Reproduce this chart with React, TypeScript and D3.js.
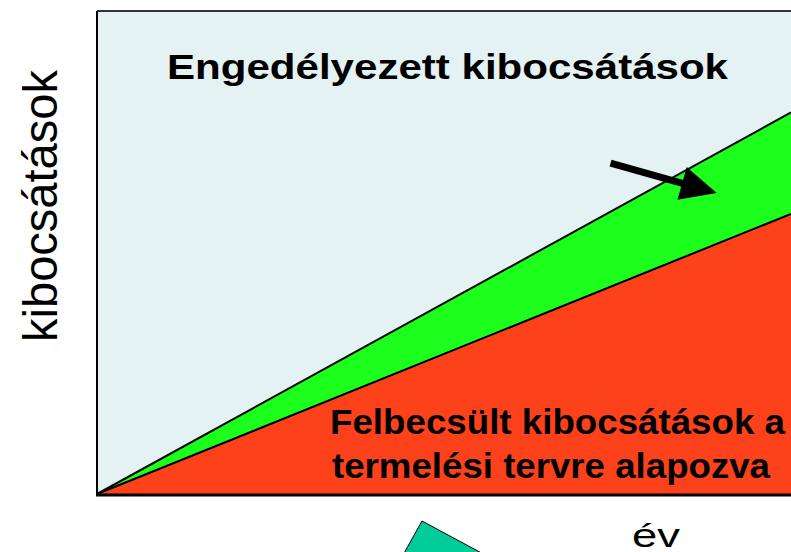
import * as d3 from 'd3';

// conceptual chart: emissions over the years
const years = [0, 10];
const permitted = [0, 79];
const estimated = [0, 58];
const arrowFrom = [7.4, 68.5];
const arrowTo = [8.93, 62.3];

const W = 791;
const H = 552;

export default function App() {
  const x = d3.scaleLinear().domain([0, 10]).range([97, 791]);
  const y = d3.scaleLinear().domain([0, 100]).range([494, 11]);

  const upper = years.map((t, i) => [x(t), y(permitted[i])] as [number, number]);
  const lower = years.map((t, i) => [x(t), y(estimated[i])] as [number, number]);

  const areaGreen = d3
    .area<number>()
    .x((_, i) => x(years[i]))
    .y0((_, i) => y(estimated[i]))
    .y1((_, i) => y(permitted[i]));
  const areaRed = d3
    .area<number>()
    .x((_, i) => x(years[i]))
    .y0(() => y(0))
    .y1((_, i) => y(estimated[i]));
  const line = d3.line();

  // arrow geometry
  const ax0 = x(arrowFrom[0]);
  const ay0 = y(arrowFrom[1]);
  const ax1 = x(arrowTo[0]);
  const ay1 = y(arrowTo[1]);
  const ang = Math.atan2(ay1 - ay0, ax1 - ax0);
  const headLen = 36;
  const headHalf = 17;
  const bx = ax1 - headLen * Math.cos(ang);
  const by = ay1 - headLen * Math.sin(ang);
  const nx = -Math.sin(ang);
  const ny = Math.cos(ang);
  const head = [
    [ax1, ay1],
    [bx + nx * headHalf, by + ny * headHalf],
    [bx - nx * headHalf, by - ny * headHalf],
  ];

  const font = 'Liberation Sans, Arial, sans-serif';

  return (
    <div style={{ position: 'fixed', left: 0, top: 0 }}>
      <svg width={W} height={H} style={{ display: 'block', background: '#fff' }}>
        <rect x={x(0)} y={y(100)} width={W - x(0) + 10} height={y(0) - y(100)} fill="#e4f2f3" />
        <path d={areaGreen(years) || ''} fill="#1cff1c" />
        <path d={areaRed(years) || ''} fill="#fd411b" />
        <path d={line(upper) || ''} stroke="#000" strokeWidth={2} fill="none" />
        <path d={line(lower) || ''} stroke="#000" strokeWidth={2} fill="none" />
        {/* frame */}
        <line x1={x(0)} x2={W + 5} y1={y(100)} y2={y(100)} stroke="#333" strokeWidth={2} />
        <line x1={x(0)} x2={x(0)} y1={y(100)} y2={y(0)} stroke="#000" strokeWidth={2} />
        <line x1={x(0) - 1} x2={W + 5} y1={y(0) + 1} y2={y(0) + 1} stroke="#000" strokeWidth={3} />

        {/* arrow */}
        <line x1={ax0} y1={ay0} x2={bx + 4 * Math.cos(ang)} y2={by + 4 * Math.sin(ang)} stroke="#000" strokeWidth={7} />
        <polygon points={head.map((p) => p.join(',')).join(' ')} fill="#000" />

        {/* texts */}
        <text x={167} y={79} fontFamily={font} fontWeight="bold" fontSize={35} textLength={561} lengthAdjust="spacingAndGlyphs">
          Engedélyezett kibocsátások
        </text>
        <text x={330} y={434} fontFamily={font} fontWeight="bold" fontSize={35} textLength={455} lengthAdjust="spacingAndGlyphs">
          Felbecsült kibocsátások a
        </text>
        <text x={332} y={478} fontFamily={font} fontWeight="bold" fontSize={35} textLength={438} lengthAdjust="spacingAndGlyphs">
          termelési tervre alapozva
        </text>
        <text
          transform="translate(57,342) rotate(-90)"
          fontFamily={font}
          fontSize={48}
          textLength={272}
          lengthAdjust="spacingAndGlyphs"
        >
          kibocsátások
        </text>
        <text x={632} y={547} fontFamily={font} fontSize={33} textLength={48} lengthAdjust="spacingAndGlyphs">
          év
        </text>

        {/* partial teal shape at the bottom */}
        <polygon points="422,521 502,564 398,564" fill="#00cc99" stroke="#000" strokeWidth={1} />
      </svg>
    </div>
  );
}
